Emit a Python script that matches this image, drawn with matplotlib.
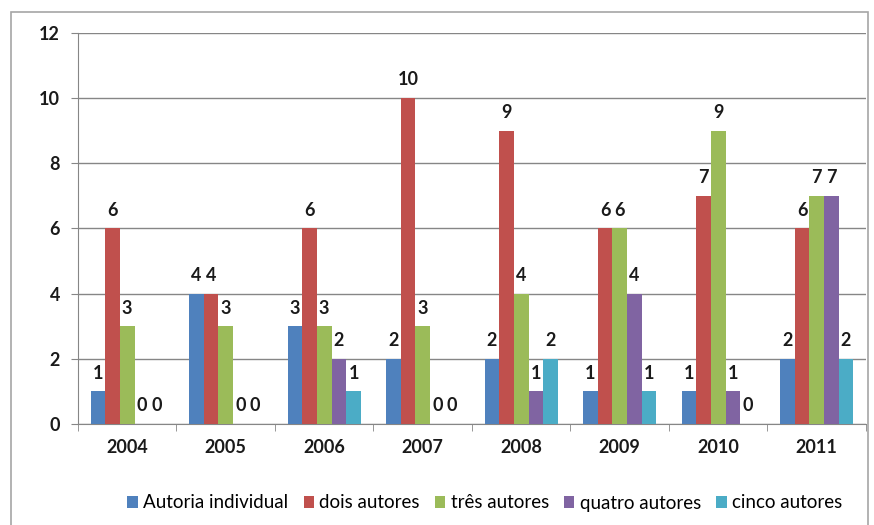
import numpy as np
import matplotlib.pyplot as plt
from matplotlib.patches import Rectangle

years = ["2004", "2005", "2006", "2007", "2008", "2009", "2010", "2011"]
series_names = ["Autoria individual", "dois autores", "três autores",
                "quatro autores", "cinco autores"]
individual = [1, 4, 3, 2, 2, 1, 1, 2]
dois = [6, 4, 6, 10, 9, 6, 7, 6]
tres = [3, 3, 3, 3, 4, 6, 9, 7]
quatro = [0, 0, 2, 0, 1, 4, 1, 7]
cinco = [0, 0, 1, 0, 2, 1, 0, 2]
colors = ["#4F81BD", "#C0504D", "#9BBB59", "#8064A2", "#4BACC6"]

plt.rcParams['font.family'] = ['Lato', 'DejaVu Sans']

fig = plt.figure(figsize=(8.74, 5.25), dpi=100)
ax = fig.add_axes([0.0892, 0.1924, 0.9016, 0.7448])

# chart border (bottom edge runs off the image)
fig.patches.append(Rectangle((11 / 874, -5 / 525), 857 / 874, 518 / 525,
                             transform=fig.transFigure, fill=False,
                             edgecolor="#A6A6A6", linewidth=1.2))

x = np.arange(len(years))
w = 0.149
all_series = [individual, dois, tres, quatro, cinco]
for i, (vals, name, c) in enumerate(zip(all_series, series_names, colors)):
    pos = x + (i - 2) * w
    bars = ax.bar(pos, vals, width=w, color=c, label=name, zorder=3)
    ax.bar_label(bars, labels=[str(v) for v in vals], padding=7,
                 fontsize=13, fontweight='bold', color="#1a1a1a")

ax.set_xlim(-0.5, len(years) - 0.5)
ax.set_ylim(0, 12)
ax.set_yticks(range(0, 13, 2))
ax.set_xticks(x)
ax.set_xticklabels(years)
ax.set_xticks(np.arange(-0.5, len(years)), minor=True)
ax.tick_params(axis='x', which='major', length=0, pad=11)
ax.tick_params(axis='x', which='minor', length=5, color="#868686")
ax.tick_params(axis='y', length=5, color="#868686", pad=8)
for lab in ax.get_xticklabels() + ax.get_yticklabels():
    lab.set_fontsize(13)
    lab.set_fontweight('bold')
    lab.set_color("#1a1a1a")

ax.grid(axis='y', color="#868686", linewidth=1, zorder=0)
for side in ['top', 'right']:
    ax.spines[side].set_visible(False)
for side in ['left', 'bottom']:
    ax.spines[side].set_color("#868686")

fig.legend(loc='center', bbox_to_anchor=(485 / 874, 22 / 525),
           ncol=5, frameon=False, fontsize=13.5, handlelength=0.55,
           handleheight=0.55, handletextpad=0.3, columnspacing=0.8)

plt.savefig("out.png", dpi=100)
